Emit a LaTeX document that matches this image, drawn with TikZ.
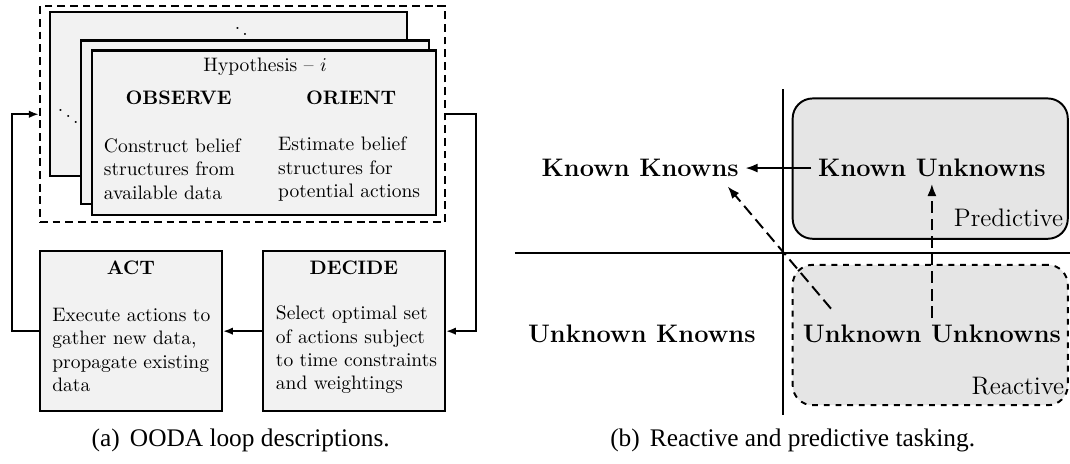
\documentclass[tikz,border=0pt]{standalone}
\usepackage{fontspec}
\newfontfamily\capfont{Liberation Serif}
\usetikzlibrary{arrows.meta,positioning,calc}

\begin{document}
\begin{tikzpicture} [{card/.style={rectangle,draw=black,line width=1.1pt,fill=black!5}},{oodabox/.style={rectangle,draw=black,line width=1.1pt,fill=black!5,minimum width=3.28cm,minimum height=2.88cm}},{region/.style={rectangle,rounded corners=0.36cm,draw=black,line width=1pt,fill=black!10,minimum width=4.96cm,minimum height=2.53cm}},{knowlab/.style={font=\bfseries\fontsize{13}{15}\selectfont}},{tasklab/.style={font=\fontsize{13}{15}\selectfont,anchor=east}},{loopst/.style={-{Latex[length=1.8mm]},line width=1pt}},{taskst/.style={-{Latex[length=2.2mm]},line width=1pt}},{capst/.style={font=\capfont\fontsize{13}{15}\selectfont}}]
	\useasboundingbox (0,0) rectangle (19.29,8.35);
	%%stack of hypothesis cards
	\node [draw,line width=1.1pt,dash pattern=on 4pt off 2.5pt,minimum width=7.30cm,minimum height=3.90cm] (hyp) at (4.37,6.29) {};
	\draw [card] (0.90,5.17) rectangle (7.34,8.13);
	\node (dotsA) at (4.42,7.84) {$\ddots$};
	\node (dotsB) at (1.23,6.36) {$\ddots$};
	\draw [card] (1.46,4.67) rectangle (7.73,7.62);
	\draw [card] (1.66,4.47) rectangle (7.86,7.44);
	\node (hyplab) at (4.78,7.14) {Hypothesis -- $i$};
	\node [font=\bfseries] (observe) at (3.22,6.58) {OBSERVE};
	\node [font=\bfseries] (orient) at (6.33,6.58) {ORIENT};
	\node [anchor=west,align=left] (obstext) at (1.75,5.30) {Construct belief\\structures from\\available data};
	\node [anchor=west,align=left] (ortext) at (4.89,5.30) {Estimate belief\\structures for\\potential actions};
	
	%%act and decide
	\node [oodabox] (act) at (2.36,2.38) {};
	\node [oodabox] (decide) at (6.38,2.38) {};
	\node [font=\bfseries] (actlab) at (2.36,3.53) {ACT};
	\node [font=\bfseries] (decidelab) at (6.38,3.53) {DECIDE};
	\node [anchor=west,align=left] (acttext) at (0.82,2.04) {Execute actions to\\gather new data,\\propagate existing\\data};
	\node [anchor=west,align=left] (decidetext) at (4.85,2.04) {Select optimal set\\of actions subject\\to time constraints\\and weightings};
	
	%%loop
	\draw [loopst] (decide) -- (act);
	\draw [loopst] (act.west) -- ++(-0.49,0) |- (hyp.west);
	\draw [loopst] (hyp.east) -- ++(0.54,0) |- (decide.east);
	
	%%axes
	\coordinate (Vt) at (14.11,6.74);
	\coordinate (Vb) at (14.11,0.87);
	\coordinate (Hl) at (9.28,3.79);
	\coordinate (Hr) at (19.29,3.79);
	\draw [line width=0.9pt] (Vt) -- (Vb);
	\draw [line width=0.9pt] (Hl) -- (Hr);
	
	%%regions
	\node [region] (pred) at (16.77,5.31) {};
	\node [region,dashed] (react) at (16.77,2.31) {};
	\node [tasklab] (predlab) at (19.29,4.43) {Predictive};
	\node [tasklab] (reactlab) at (19.31,1.39) {Reactive};
	
	%%quadrants
	\node [knowlab] (kk) at (11.54,5.32) {Known Knowns};
	\node [knowlab] (ku) at (16.80,5.32) {Known Unknowns};
	\node [knowlab] (uk) at (11.57,2.33) {Unknown Knowns};
	\node [knowlab] (uu) at (16.80,2.33) {Unknown Unknowns};
	\draw [taskst] (ku) -- (kk);
	\draw [taskst,dash pattern=on 6pt off 3pt] (uu) -- (ku);
	\draw [taskst,dash pattern=on 6pt off 3pt] ([xshift=0.63cm,yshift=0.17cm]uu.north west) -- ([xshift=-0.32cm,yshift=-0.05cm]kk.south east);
	
	%%captions
	\node [capst] (capa) at (4.34,0.41) {(a)\hspace{0.4em}OODA loop descriptions.};
	\node [capst] (capb) at (14.29,0.41) {(b)\hspace{0.4em}Reactive and predictive tasking.};
\end{tikzpicture}
\end{document}
